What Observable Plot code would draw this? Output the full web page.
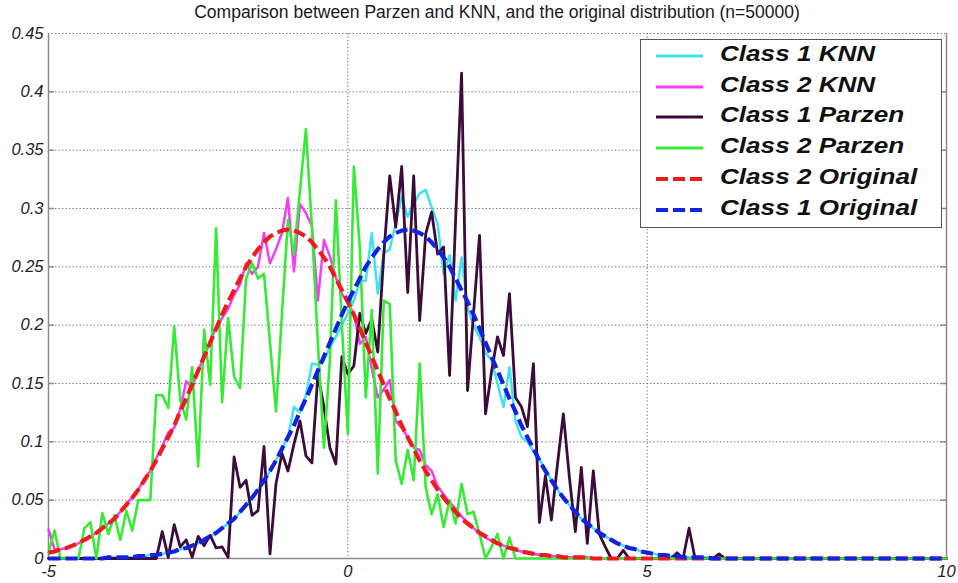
<!DOCTYPE html>
<html>
<head>
<meta charset="utf-8">
<script src="https://cdn.jsdelivr.net/npm/d3@7"></script>
<script src="https://cdn.jsdelivr.net/npm/@observablehq/plot@0.6"></script>
<style>
  html, body { margin: 0; padding: 0; background: #fff; }
  #wrap { position: relative; width: 958px; height: 583px; overflow: hidden; background: #fff; }
  #title {
    position: relative; top: 2px; height: 24px; line-height: 24px;
    margin-left: 48px; width: 898px; text-align: center;
    font: 17.5px "Liberation Sans", Arial, sans-serif; color: #1a1a1a; white-space: nowrap;
  }
  #chart svg { display: block; overflow: visible; }
  #chart svg text { font-style: italic; }
  #legend {
    position: absolute; left: 640px; top: 39px; width: 302px; height: 189px;
    box-sizing: border-box; border: 1.5px solid #555; background: #fff;
  }
  .row { position: absolute; left: 0; height: 30px; width: 300px; }
  .row svg { position: absolute; left: 14px; top: 0; }
  .row span {
    position: absolute; left: 79px; top: 0; line-height: 30px;
    font: italic bold 22.5px "Liberation Sans", Arial, sans-serif; color: #111;
    transform: scaleX(1.16); transform-origin: left center; white-space: nowrap;
  }
</style>
</head>
<body>
<div id="wrap">
  <div id="title"></div>
  <div id="chart"></div>
  <div id="legend"></div>
</div>
<script>
// Densities sampled on a regular grid: x = xStart + i * xStep, i = 0..150 (x from -5 to 10)
const xStart = -5, xStep = 0.1;

const class1KNN = [
  0, 0, 0, 0, 0, 0, 0, 0, 0, 0,
  0.001, 0.001, 0.001, 0.001, 0.001, 0.002, 0.002, 0.003, 0.003, 0.004,
  0.005, 0.006, 0.008, 0.009, 0.011, 0.013, 0.016, 0.019, 0.022, 0.026,
  0.030, 0.034, 0.040, 0.046, 0.052, 0.059, 0.067, 0.075, 0.084, 0.094,
  0.104, 0.130, 0.125, 0.140, 0.167, 0.166, 0.170, 0.181, 0.190, 0.200,
  0.210, 0.221, 0.238, 0.238, 0.279, 0.227, 0.262, 0.265, 0.287, 0.310,
  0.293, 0.304, 0.313, 0.316, 0.301, 0.287, 0.244, 0.260, 0.221, 0.258,
  0.215, 0.200, 0.190, 0.176, 0.170, 0.150, 0.130, 0.164, 0.118, 0.104,
  0.100, 0.092, 0.085, 0.076, 0.067, 0.059, 0.052, 0.046, 0.040, 0.034,
  0.030, 0.026, 0.022, 0.019, 0.016, 0.013, 0.011, 0.009, 0.008, 0.006,
  0.005, 0.004, 0.003, 0.003, 0.002, 0.002, 0.001, 0.001, 0.001, 0.001,
  0.001, 0, 0, 0, 0, 0, 0, 0, 0, 0,
  0, 0, 0, 0, 0, 0, 0, 0, 0, 0,
  0, 0, 0, 0, 0, 0, 0, 0, 0, 0,
  0, 0, 0, 0, 0, 0, 0, 0, 0, 0,
  0
];

const class2KNN = [
  0.025, 0.008, 0.008, 0.009, 0.011, 0.013, 0.016, 0.019, 0.022, 0.026,
  0.030, 0.034, 0.040, 0.046, 0.053, 0.059, 0.068, 0.075, 0.086, 0.096,
  0.108, 0.112, 0.128, 0.152, 0.146, 0.162, 0.172, 0.186, 0.198, 0.206,
  0.214, 0.226, 0.235, 0.253, 0.244, 0.250, 0.279, 0.253, 0.265, 0.279,
  0.309, 0.246, 0.304, 0.296, 0.285, 0.221, 0.273, 0.259, 0.241, 0.227,
  0.219, 0.210, 0.184, 0.190, 0.163, 0.138, 0.145, 0.153, 0.118, 0.112,
  0.104, 0.095, 0.093, 0.080, 0.075, 0.062, 0.055, 0.048, 0.043, 0.036,
  0.031, 0.026, 0.022, 0.018, 0.015, 0.013, 0.011, 0.009, 0.007, 0.006,
  0.005, 0.004, 0.003, 0.003, 0.002, 0.002, 0.001, 0.001, 0.001, 0.001,
  0.001, 0, 0, 0, 0, 0, 0, 0, 0, 0,
  0, 0, 0, 0, 0, 0, 0, 0, 0, 0,
  0, 0, 0, 0, 0, 0, 0, 0, 0, 0,
  0, 0, 0, 0, 0, 0, 0, 0, 0, 0,
  0, 0, 0, 0, 0, 0, 0, 0, 0, 0,
  0, 0, 0, 0, 0, 0, 0, 0, 0, 0,
  0
];

const class1Parzen = [
  0, 0, 0, 0, 0, 0, 0, 0, 0, 0,
  0, 0, 0, 0, 0, 0, 0, 0, 0, 0.023,
  0.001, 0.029, 0.010, 0.016, 0.001, 0.019, 0.011, 0.020, 0.009, 0.010,
  0.001, 0.087, 0.061, 0.067, 0.037, 0.041, 0.096, 0.004, 0.064, 0.090,
  0.075, 0.098, 0.118, 0.088, 0.082, 0.158, 0.130, 0.095, 0.081, 0.173,
  0.158, 0.165, 0.210, 0.193, 0.205, 0.177, 0.260, 0.328, 0.284, 0.336,
  0.228, 0.328, 0.204, 0.278, 0.297, 0.261, 0.267, 0.157, 0.290, 0.416,
  0.144, 0.210, 0.277, 0.124, 0.160, 0.190, 0.174, 0.227, 0.138, 0.130,
  0.113, 0.167, 0.031, 0.071, 0.033, 0.080, 0.124, 0.070, 0.023, 0.078,
  0.013, 0.075, 0.021, 0.010, 0, 0, 0.007, 0, 0, 0,
  0, 0, 0, 0, 0, 0.005, 0, 0.026, 0, 0,
  0, 0, 0.004, 0, 0, 0, 0, 0, 0, 0,
  0, 0, 0, 0, 0, 0, 0, 0, 0, 0,
  0, 0, 0, 0, 0, 0, 0, 0, 0, 0,
  0, 0, 0, 0, 0, 0, 0, 0, 0, 0,
  0
];

const class2Parzen = [
  0.005, 0.024, 0, 0, 0, 0, 0.026, 0.031, 0, 0.039,
  0.021, 0.037, 0.016, 0.041, 0.024, 0.050, 0.050, 0.050, 0.140, 0.140,
  0.129, 0.199, 0.136, 0.119, 0.164, 0.079, 0.196, 0.149, 0.283, 0.134,
  0.206, 0.156, 0.146, 0.240, 0.253, 0.240, 0.244, 0.185, 0.126, 0.210,
  0.290, 0.261, 0.315, 0.368, 0.284, 0.184, 0.095, 0.170, 0.307, 0.201,
  0.107, 0.336, 0.267, 0.138, 0.213, 0.073, 0.221, 0.218, 0.084, 0.064,
  0.093, 0.067, 0.167, 0.061, 0.038, 0.055, 0.027, 0.050, 0.030, 0.064,
  0.038, 0.040, 0.021, 0, 0.010, 0.021, 0, 0.018, 0, 0,
  0, 0, 0, 0, 0, 0, 0, 0, 0, 0,
  0, 0, 0, 0, 0, 0, 0, 0, 0, 0,
  0, 0, 0, 0, 0, 0, 0, 0, 0, 0,
  0, 0, 0, 0, 0, 0, 0, 0, 0, 0,
  0, 0, 0, 0, 0, 0, 0, 0, 0, 0,
  0, 0, 0, 0, 0, 0, 0, 0, 0, 0,
  0, 0, 0, 0, 0, 0, 0, 0, 0, 0,
  0
];

const class2Original = [
  0.005, 0.006, 0.008, 0.009, 0.011, 0.013, 0.016, 0.019, 0.022, 0.026,
  0.030, 0.034, 0.040, 0.046, 0.052, 0.059, 0.067, 0.075, 0.084, 0.094,
  0.104, 0.114, 0.126, 0.137, 0.149, 0.161, 0.173, 0.185, 0.197, 0.209,
  0.220, 0.230, 0.240, 0.250, 0.258, 0.265, 0.271, 0.276, 0.279, 0.281,
  0.282, 0.281, 0.279, 0.276, 0.271, 0.265, 0.258, 0.250, 0.240, 0.230,
  0.220, 0.209, 0.197, 0.185, 0.173, 0.161, 0.149, 0.137, 0.126, 0.114,
  0.104, 0.094, 0.084, 0.075, 0.067, 0.059, 0.052, 0.046, 0.040, 0.034,
  0.030, 0.026, 0.022, 0.019, 0.016, 0.013, 0.011, 0.009, 0.008, 0.006,
  0.005, 0.004, 0.003, 0.003, 0.002, 0.002, 0.001, 0.001, 0.001, 0.001,
  0.001, 0, 0, 0, 0, 0, 0, 0, 0, 0,
  0, 0, 0, 0, 0, 0, 0, 0, 0, 0,
  0, 0, 0, 0, 0, 0, 0, 0, 0, 0,
  0, 0, 0, 0, 0, 0, 0, 0, 0, 0,
  0, 0, 0, 0, 0, 0, 0, 0, 0, 0,
  0, 0, 0, 0, 0, 0, 0, 0, 0, 0,
  0
];

const class1Original = [
  0, 0, 0, 0, 0, 0, 0, 0, 0, 0,
  0.001, 0.001, 0.001, 0.001, 0.001, 0.002, 0.002, 0.003, 0.003, 0.004,
  0.005, 0.006, 0.008, 0.009, 0.011, 0.013, 0.016, 0.019, 0.022, 0.026,
  0.030, 0.034, 0.040, 0.046, 0.052, 0.059, 0.067, 0.075, 0.084, 0.094,
  0.104, 0.114, 0.126, 0.137, 0.149, 0.161, 0.173, 0.185, 0.197, 0.209,
  0.220, 0.230, 0.240, 0.250, 0.258, 0.265, 0.271, 0.276, 0.279, 0.281,
  0.282, 0.281, 0.279, 0.276, 0.271, 0.265, 0.258, 0.250, 0.240, 0.230,
  0.220, 0.209, 0.197, 0.185, 0.173, 0.161, 0.149, 0.137, 0.126, 0.114,
  0.104, 0.094, 0.084, 0.075, 0.067, 0.059, 0.052, 0.046, 0.040, 0.034,
  0.030, 0.026, 0.022, 0.019, 0.016, 0.013, 0.011, 0.009, 0.008, 0.006,
  0.005, 0.004, 0.003, 0.003, 0.002, 0.002, 0.001, 0.001, 0.001, 0.001,
  0.001, 0, 0, 0, 0, 0, 0, 0, 0, 0,
  0, 0, 0, 0, 0, 0, 0, 0, 0, 0,
  0, 0, 0, 0, 0, 0, 0, 0, 0, 0,
  0, 0, 0, 0, 0, 0, 0, 0, 0, 0,
  0
];

const seriesNames = ["Class 1 KNN", "Class 2 KNN", "Class 1 Parzen", "Class 2 Parzen", "Class 2 Original", "Class 1 Original"];
const seriesValues = [class1KNN, class2KNN, class1Parzen, class2Parzen, class2Original, class1Original];

const xTicks = [-5, 0, 5, 10];
const xTickLabels = ["-5", "0", "5", "10"];
const yTicks = [0, 0.05, 0.1, 0.15, 0.2, 0.25, 0.3, 0.35, 0.4, 0.45];
const yTickLabels = ["0", "0.05", "0.1", "0.15", "0.2", "0.25", "0.3", "0.35", "0.4", "0.45"];

const titleText = "Comparison between Parzen and KNN, and the original distribution (n=50000)";

// line styles, in drawing (and legend) order
const styles = [
  {stroke: "#40e2f0", width: 2.5, dash: null},
  {stroke: "#f23ef2", width: 2.5, dash: null},
  {stroke: "#3b0c3b", width: 2.8, dash: null},
  {stroke: "#36ea36", width: 2.6, dash: null},
  {stroke: "#ee1c1c", width: 4.2, dash: "12,5"},
  {stroke: "#1222e0", width: 4.2, dash: "12,5"}
];

const tables = seriesValues.map((vals, s) =>
  vals.map((v, i) => ({series: seriesNames[s], x: Math.round((xStart + i * xStep) * 10) / 10, y: v}))
);

const gridStyle = {stroke: "#6e6e6e", strokeWidth: 1, strokeDasharray: "1.3,2.2"};
const frameStyle = {stroke: "#8a8a8a", strokeWidth: 1.5};
const tickLen = 0.1;

const plot = Plot.plot({
  width: 958,
  height: 559,
  marginLeft: 48,
  marginRight: 12,
  marginTop: 9,
  marginBottom: 25,
  style: {fontFamily: "'Liberation Sans', Arial, sans-serif", fontSize: "16.5px", color: "#222", background: "#fff"},
  x: {domain: [xTicks[0], xTicks[xTicks.length - 1]], label: null},
  y: {domain: [yTicks[0], yTicks[yTicks.length - 1]], label: null},
  marks: [
    Plot.ruleY(yTicks.slice(1), gridStyle),
    Plot.ruleX(xTicks.slice(1, -1), gridStyle),
    Plot.ruleY(yTicks.slice(1, -1), {x1: xTicks[xTicks.length - 1] - tickLen, x2: xTicks[xTicks.length - 1], ...frameStyle}),
    Plot.ruleY(yTicks.slice(1, -1), {x1: xTicks[0], x2: xTicks[0] + tickLen, ...frameStyle}),
    Plot.ruleX([xTicks[0], xTicks[xTicks.length - 1]], frameStyle),
    Plot.ruleY([yTicks[0]], frameStyle),
    ...tables.map((t, s) => Plot.line(t, {
      x: "x", y: "y",
      stroke: styles[s].stroke,
      strokeWidth: styles[s].width,
      strokeDasharray: styles[s].dash,
      strokeLinejoin: "round",
      strokeLinecap: styles[s].dash ? "butt" : "round"
    })),
    Plot.axisY(yTicks, {tickSize: 0, tickPadding: 5, tickFormat: (d) => yTickLabels[yTicks.indexOf(d)], label: null}),
    Plot.axisX(xTicks, {tickSize: 0, tickPadding: 7, tickFormat: (d) => xTickLabels[xTicks.indexOf(d)], label: null})
  ]
});

document.getElementById("chart").appendChild(plot);
document.getElementById("title").textContent = titleText;

// legend box in the upper right of the plot area
const legend = document.getElementById("legend");
const rowCenters = [17.5, 48.2, 78.9, 109.6, 140.3, 171];
seriesNames.forEach((name, s) => {
  const row = document.createElement("div");
  row.className = "row";
  row.style.top = (rowCenters[s] - 15 - 1.5) + "px";
  const st = styles[s];
  row.innerHTML =
    `<svg width="50" height="30"><line x1="1" x2="48" y1="15" y2="15" stroke="${st.stroke}" stroke-width="${st.dash ? 4.2 : 3}" ${st.dash ? `stroke-dasharray="${st.dash}"` : ""}/></svg>` +
    `<span></span>`;
  row.querySelector("span").textContent = name;
  legend.appendChild(row);
});
</script>
</body>
</html>
